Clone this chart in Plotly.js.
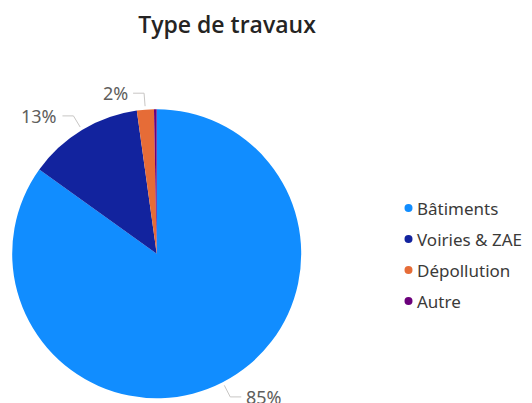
<!DOCTYPE html>
<html>
<head>
<meta charset="utf-8">
<script src="https://cdn.plot.ly/plotly-3.0.1.min.js"></script>
<style>html,body{margin:0;padding:0;background:#fff;}#chart{width:532px;height:403px;}</style>
</head>
<body>
<div id="chart"></div>
<script>
// Data
const categories = ["Bâtiments", "Voiries & ZAE", "Dépollution", "Autre"];
const shares = [84.9, 12.9, 1.9, 0.3];
const colors = ["#118DFF", "#12239E", "#E66C37", "#6B007B"];
const chartTitle = "Type de travaux";

// Layout geometry (pixels)
const W = 532, H = 403;
const cx = 156.7, cy = 253.7, R = 144.5;
const px = x => x / W;
const py = y => 1 - y / H;

const total = shares.reduce((a, b) => a + b, 0);
const shapes = [];
const annotations = [];

// Data labels with leader lines, derived from slice angles
let acc = 0;
shares.forEach((v, i) => {
  const frac = v / total;
  const mid = (acc + frac / 2) * 2 * Math.PI; // clockwise from 12 o'clock
  acc += frac;
  const pct = Math.round(frac * 100);
  if (pct < 1) return;
  const s = Math.sin(mid), c = Math.cos(mid);
  const r0 = R + 3.5, r1 = R + 16.5;
  const x0 = cx + r0 * s, y0 = cy - r0 * c;
  const x1 = cx + r1 * s, y1 = cy - r1 * c;
  const dir = s >= 0 ? 1 : -1;
  const x2 = x1 + dir * 11;
  shapes.push({type: "path", xref: "paper", yref: "paper",
    path: `M ${px(x0)} ${py(y0)} L ${px(x1)} ${py(y1)} L ${px(x2)} ${py(y1)}`,
    line: {color: "#C8C6C4", width: 1}});
  annotations.push({xref: "paper", yref: "paper", x: px(x2 + dir * 3), y: py(y1),
    xanchor: dir > 0 ? "left" : "right", yanchor: "middle", showarrow: false,
    text: pct + "%", font: {family: "Noto Sans, sans-serif", size: 18, color: "#605E5C"}});
});

// Custom legend
categories.forEach((name, i) => {
  const ly = 208 + 31 * i;
  shapes.push({type: "circle", xref: "paper", yref: "paper",
    x0: px(404.5), x1: px(412.5), y0: py(ly - 4), y1: py(ly + 4),
    fillcolor: colors[i], line: {width: 0}});
  annotations.push({xref: "paper", yref: "paper", x: px(415), y: py(ly),
    xanchor: "left", yanchor: "middle", showarrow: false, text: name,
    font: {family: "Noto Sans, sans-serif", size: 17, color: "#3B3A39"}});
});

const trace = {
  type: "pie",
  labels: categories,
  values: shares,
  sort: false,
  direction: "clockwise",
  rotation: 0,
  textinfo: "none",
  hoverinfo: "label+percent",
  marker: {colors: colors, line: {width: 0}},
  domain: {x: [px(cx - R), px(cx + R)], y: [py(cy + R), py(cy - R)]},
  showlegend: false
};

const layout = {
  width: W, height: H,
  margin: {l: 0, r: 0, t: 0, b: 0},
  paper_bgcolor: "#fff",
  title: {text: chartTitle, x: px(227), xanchor: "center", xref: "paper",
    y: py(24.5), yref: "container", yanchor: "middle",
    font: {family: "Open Sans, sans-serif", size: 23, weight: 600, color: "#252423"}},
  shapes: shapes,
  annotations: annotations,
  showlegend: false
};

Plotly.newPlot("chart", [trace], layout, {displayModeBar: false, staticPlot: true});
</script>
</body>
</html>
